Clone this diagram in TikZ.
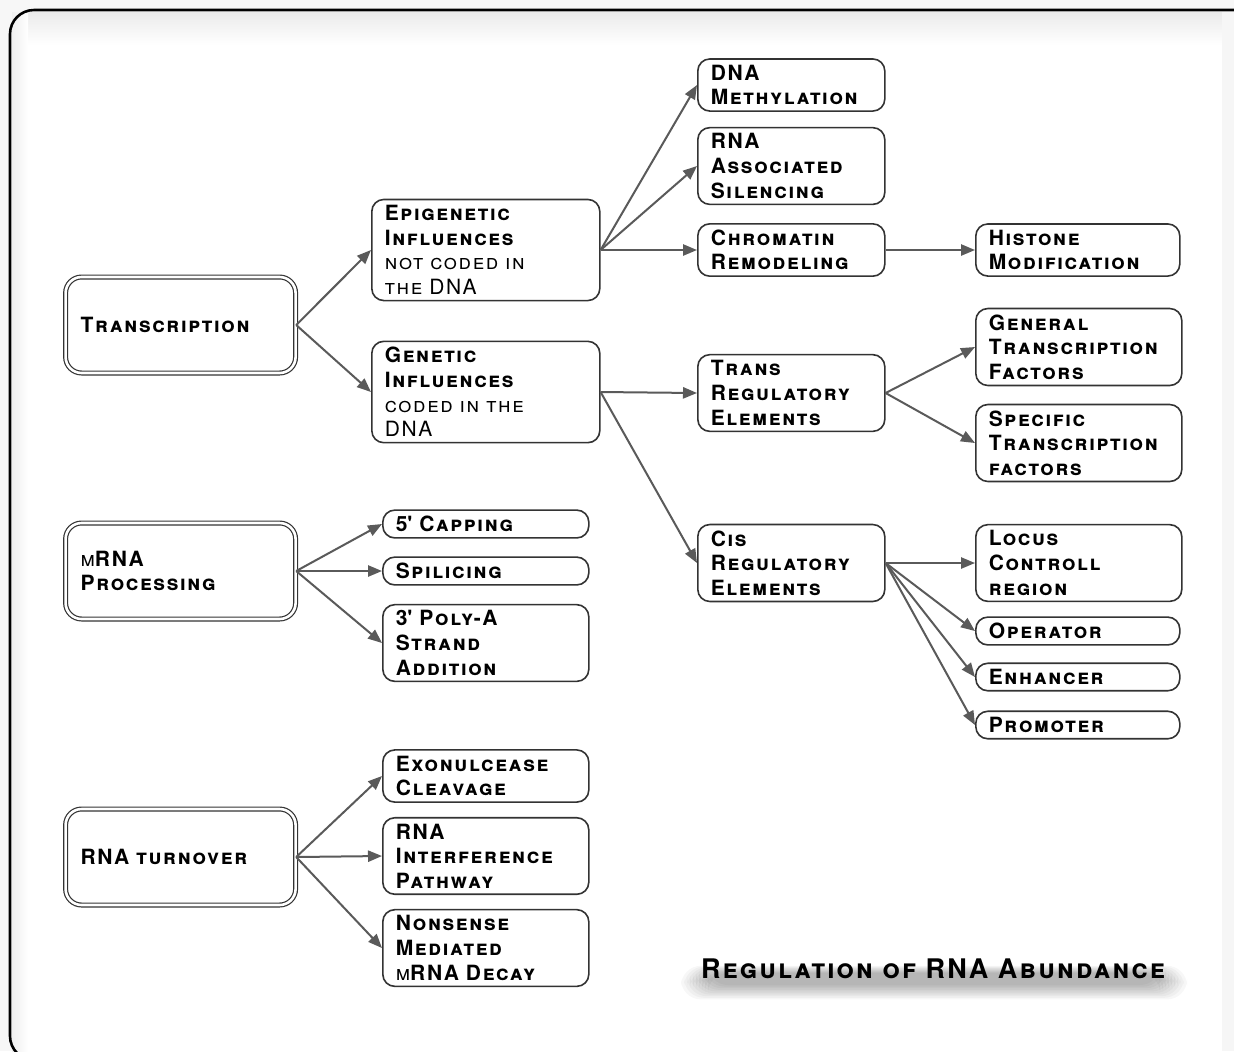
\documentclass[tikz,border=0pt]{standalone}
\usepackage{fontspec}
\setmainfont{TeX Gyre Heros}[LetterSpace=8]
\usepackage{xcolor}
\usetikzlibrary{positioning,arrows.meta}

\definecolor{linkgray}{HTML}{5A5A5A}
\definecolor{edgegray}{HTML}{333333}

\begin{document}
\begin{tikzpicture}[x=0.5pt, y=-0.5pt,
  box/.style={draw=edgegray, line width=0.8pt, rounded corners=6pt, fill=white,
    align=left, anchor=west, inner xsep=6.5pt, inner ysep=3pt,
    font=\fontsize{10.5}{12.3}\selectfont\bfseries\scshape},
  midbox/.style={box, text width=80.5pt},
  sidebox/.style={box, text width=90pt},
  infbox/.style={box, text width=101pt},
  stagebox/.style={box, double=white, double distance=1.3pt, line width=0.6pt,
    text width=100pt, minimum height=48pt, inner xsep=7.5pt, rounded corners=8pt},
  link/.style={linkgray, line width=1pt, -{Triangle[length=7pt, width=5.6pt]}}]

\useasboundingbox (0,0) rectangle (1234,1051);
\clip (0,0) rectangle (1234,1051);

% frame
\fill[gray!6] (0,0) rectangle (1234,1051);
\fill[white, rounded corners=12pt] (10,10) rectangle (1260,1060);
\shade[top color=gray!16, bottom color=white] (12,12) rectangle (1234,45);
\shade[left color=gray!12, right color=white] (12,12) rectangle (28,1051);
\fill[gray!7] (1222,12) rectangle (1234,1051);
\draw[black, line width=1.3pt, rounded corners=12pt] (10,10) rectangle (1260,1060);

% main stages
\node[stagebox] (transcription) at (65,325) {Transcription};
\node[stagebox] (mrnaproc) at (65,571) {{\mdseries m}RNA\\Processing};
\node[stagebox] (turnover) at (65,857) {RNA turnover};

% transcription branch
\node[infbox] (epigen) at (371,250) {Epigenetic\\Influences\\{\mdseries not coded in}\\{\mdseries the DNA}};
\node[infbox] (genetic) at (371,392) {Genetic\\Influences\\{\mdseries coded in the}\\{\mdseries DNA}};

\node[midbox] (dnameth) at (697,85) {DNA\\Methylation};
\node[midbox] (rnasil) at (697,166) {RNA\\Associated\\Silencing};
\node[midbox] (chromatin) at (697,250) {Chromatin\\Remodeling};
\node[sidebox, text width=89pt] (histone) at (975,250) {Histone\\Modification};

\node[midbox] (trans) at (697,393) {Trans\\Regulatory\\Elements};
\node[sidebox] (general) at (975,347) {General\\Transcription\\Factors};
\node[sidebox] (specific) at (975,443) {Specific\\Transcription\\factors};

\node[midbox] (cis) at (697,563) {Cis\\Regulatory\\Elements};
\node[sidebox] (locus) at (975,563) {Locus\\Controll\\region};
\node[sidebox, text width=89pt] (operator) at (975,631) {Operator};
\node[sidebox, text width=89pt] (enhancer) at (975,677) {Enhancer};
\node[sidebox, text width=89pt] (promoter) at (975,725) {Promoter};

% processing branch
\node[sidebox] (capping) at (382,524) {5\textquotesingle{} Capping};
\node[sidebox] (splicing) at (382,571) {Spilicing};
\node[sidebox] (polya) at (382,643) {3\textquotesingle{} Poly-A\\Strand\\Addition};

% turnover branch
\node[sidebox] (exo) at (382,776) {Exonulcease\\Cleavage};
\node[sidebox] (rnai) at (382,856) {RNA\\Interference\\Pathway};
\node[sidebox] (nonsense) at (382,948) {Nonsense\\Mediated\\{\mdseries m}RNA Decay};

% title with soft shadow
\foreach \k in {0,...,9}
  \fill[black, opacity=0.03, rounded corners=10pt]
    (708-\k*3,973-\k*0.8) rectangle (1160+\k*3,985+\k*1.6);
\node[font=\fontsize{13.5}{16}\selectfont\bfseries\scshape] (title) at (933,969)
  {Regulation of RNA Abundance};

% arrows
\foreach \src/\dst in {transcription/epigen, transcription/genetic,
    epigen/dnameth, epigen/rnasil, epigen/chromatin, chromatin/histone,
    genetic/trans, genetic/cis, trans/general, trans/specific,
    cis/locus, cis/operator, cis/enhancer, cis/promoter,
    mrnaproc/capping, mrnaproc/splicing, mrnaproc/polya,
    turnover/exo, turnover/rnai, turnover/nonsense}
  \draw[link] (\src.east) -- (\dst.west);

\end{tikzpicture}
\end{document}
